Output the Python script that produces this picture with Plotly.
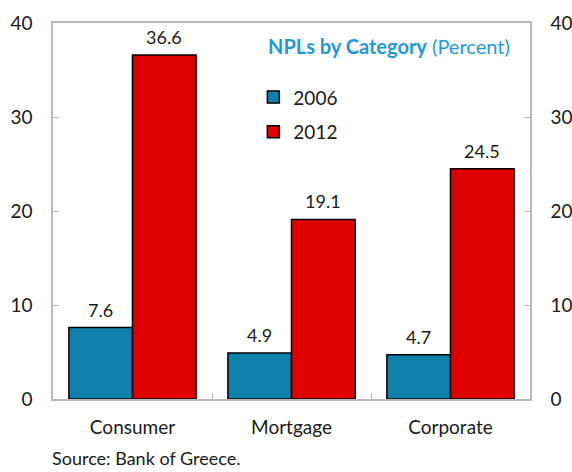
import plotly.graph_objects as go

categories = ["Consumer", "Mortgage", "Corporate"]
series_names = ["2006", "2012"]
values_2006 = [7.6, 4.9, 4.7]
values_2012 = [36.6, 19.1, 24.5]
y_ticks = [0, 10, 20, 30, 40]

FONT = "Lato, 'Open Sans', sans-serif"
TXT = "#1a1a1a"
BLUE = "#1080ad"
RED = "#e00000"

W, H = 572, 472
ML, MR, MT, MB = 53, 42, 23, 73
BARGAP = 0.2

fig = go.Figure()
for name, vals, col, grp in [(series_names[0], values_2006, BLUE, "a"),
                             (series_names[1], values_2012, RED, "b")]:
    fig.add_trace(go.Bar(
        x=categories, y=vals, name=name, legendgroup=grp,
        marker=dict(color=col, line=dict(color="#000000", width=1.5)),
        hoverinfo="x+y",
    ))
# invisible trace for right axis
fig.add_trace(go.Scatter(x=categories, y=[None]*3, yaxis="y2", showlegend=False,
                         hoverinfo="skip"))

# value labels above each bar
plot_w = W - ML - MR
bar_px = plot_w / len(categories) * (1 - BARGAP) / 2
for vals, sign in [(values_2006, -1), (values_2012, 1)]:
    for c, v in zip(categories, vals):
        fig.add_annotation(x=c, y=v, xref="x", yref="y", text=f"{v:.1f}",
                           showarrow=False, yanchor="bottom", xanchor="center",
                           xshift=sign * bar_px / 2, yshift=5,
                           font=dict(family=FONT, size=18, color=TXT))

axis_common = dict(range=[0, 40], tickvals=y_ticks, ticks="inside", ticklen=6,
                   tickcolor="#b8b8b8", showgrid=False, zeroline=False,
                   showline=True, linecolor="#b8b8b8", linewidth=1.5,
                   automargin=False,
                   tickfont=dict(family=FONT, size=19, color=TXT))

fig.update_layout(
    width=W, height=H,
    margin=dict(l=ML, r=MR, t=MT, b=MB, autoexpand=False),
    paper_bgcolor="white", plot_bgcolor="white",
    barmode="group", bargap=BARGAP, bargroupgap=0,
    font=dict(family=FONT, color=TXT),
    xaxis=dict(ticks="inside", tickson="boundaries", ticklen=6, tickcolor="#b8b8b8",
               showline=True, linecolor="#b8b8b8", linewidth=1.5, mirror=True,
               automargin=False,
               tickfont=dict(family=FONT, size=19, color=TXT), ticklabelstandoff=10),
    yaxis=dict(**axis_common, side="left", ticklabelstandoff=15),
    yaxis2=dict(**axis_common, side="right", overlaying="y", ticklabelstandoff=15),
    legend=dict(x=0.42, y=0.853, xanchor="left", yanchor="top",
                font=dict(family=FONT, size=19, color=TXT),
                traceorder="grouped", tracegroupgap=7,
                bgcolor="rgba(0,0,0,0)"),
    showlegend=True,
)

fig.add_annotation(xref="paper", yref="paper", x=0.962, y=0.939, xanchor="right",
                   yanchor="middle", showarrow=False,
                   text="<b>NPLs by Category</b> (Percent)",
                   font=dict(family=FONT, size=20, color="#1f9ad6"))
fig.add_annotation(xref="paper", yref="paper", x=0, y=-0.158, xanchor="left",
                   yanchor="middle", showarrow=False, xshift=-3,
                   text="Source: Bank of Greece.",
                   font=dict(family=FONT, size=18, color=TXT))

fig.write_html("out.html", config={"displayModeBar": False},
               post_script="document.body.style.margin='0';document.body.style.padding='0';")
